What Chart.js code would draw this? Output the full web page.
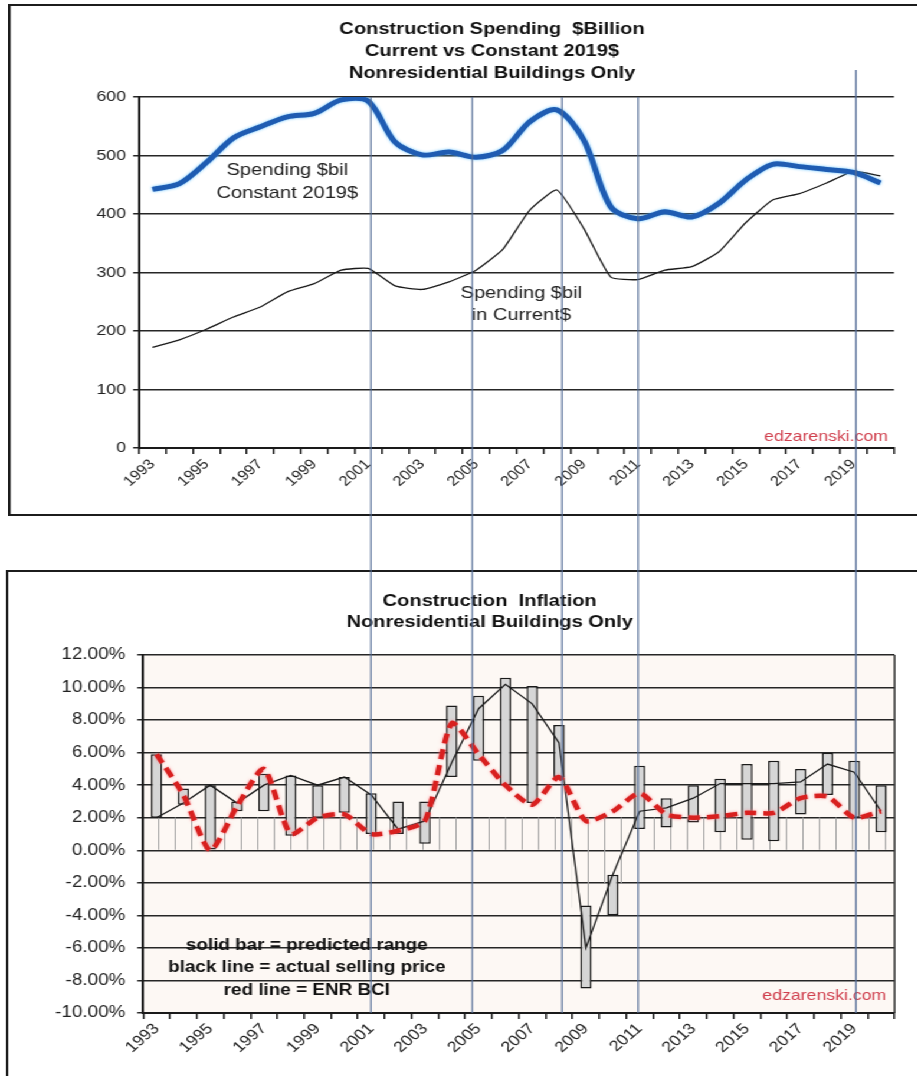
<!DOCTYPE html>
<html>
<head>
<meta charset="utf-8">
<title>Nonresidential Buildings: Spending and Inflation</title>
<script src="https://cdn.jsdelivr.net/npm/chart.js@4.4.1/dist/chart.umd.min.js"></script>
<style>
  html, body { margin: 0; padding: 0; background: #fff; }
  #page { position: relative; width: 917px; height: 1076px; overflow: hidden; background: #fff; }
  /* the whole sheet is laid out on a narrower stage and widened as one piece */
  #stage { position: absolute; left: 0; top: 0; width: 778px; height: 1076px;
           transform: scaleX(1.18); transform-origin: 0 0; }
  .frame { position: absolute; box-sizing: border-box; border: 2px solid #1c1c1c; pointer-events: none; }
  canvas { position: absolute; }
</style>
</head>
<body>
<div id="page">
 <div id="stage">
  <canvas id="spend" width="820" height="540" style="left:7px;top:0"></canvas>
  <canvas id="infl" width="820" height="516" style="left:5px;top:560px"></canvas>
  <div class="frame" style="left:7px;top:4px;width:860px;height:512px"></div>
  <div class="frame" style="left:5px;top:570px;width:860px;height:560px"></div>
  <canvas id="marks" width="778" height="1076" style="left:0;top:0;pointer-events:none"></canvas>
 </div>
</div>
<script>
// ---- data ----
const years = ['1993','1994','1995','1996','1997','1998','1999','2000','2001','2002',
               '2003','2004','2005','2006','2007','2008','2009','2010','2011','2012',
               '2013','2014','2015','2016','2017','2018','2019','2020'];

// Nonresidential buildings spending, $ billion
const spendConstant2019 = [442,452,488,530,549,566,572,595,593,523,501,506,497,509,
                           558,578,526,412,392,404,395,418,458,485,481,476,471,453];
const spendCurrent = [172,185,203,224,241,267,281,304,307,277,271,284,304,340,
                      407,441,375,292,288,304,310,335,385,424,435,453,473,465];
const spendTicks = [0,100,200,300,400,500,600];

// Inflation, % per year
const predictedLow  = [2.0,2.8,0.0,2.4,2.4,0.9,2.0,2.3,1.0,1.0,0.4,4.5,5.5,4.0,
                       2.9,4.5,-8.5,-4.0,1.3,1.4,1.7,1.1,0.65,0.55,2.2,3.4,2.0,1.1];
const predictedHigh = [5.9,3.8,4.0,3.0,4.7,4.6,4.0,4.5,3.5,3.0,3.0,8.9,9.5,10.6,
                       10.1,7.7,-3.4,-1.5,5.2,3.2,4.0,4.4,5.3,5.5,5.0,6.0,5.5,4.0];
const actualSelling = [2.0,2.9,4.0,2.9,4.0,4.6,4.0,4.5,3.4,1.3,1.8,5.4,8.7,10.2,
                       9.0,6.6,-6.0,-1.5,2.4,2.6,3.2,4.1,4.1,4.1,4.2,5.3,4.8,2.4];
const enrBci = [5.9,3.4,0.0,2.7,5.0,1.0,2.0,2.2,1.0,1.2,1.8,7.8,5.9,4.0,
                2.8,4.5,1.8,2.4,3.5,2.2,2.0,2.1,2.3,2.3,3.2,3.3,2.0,2.4];
const bandLow  = [0,0,0,0,0,0,0,0,0,0,0,0,0,0,0,0,-3.5,-2.0,0,0,0,0,0,0,0,0,0,0];
const bandHigh = [2,2,2,2,2,2,2,2,2,2,2,2,2,2,2,2,2,2,2,2,2,2,2,2,2,2,2,2];
const inflTicks = [-10,-8,-6,-4,-2,0,2,4,6,8,10,12];

// cycle markers spanning both panels (decimal years)
const cycleMarkYears = [2001.1, 2004.86, 2008.19, 2011.01, 2019.09];

// ---- shared styling ----
const SANS = "'Liberation Sans', Arial, Helvetica, sans-serif";
const INK = '#1a1a1a';

// panel heading, centred on the panel frame
function frameTitle(id, lines, y0, lh) {
  return {
    id,
    afterDraw(chart) {
      const { ctx } = chart;
      ctx.save();
      ctx.font = 'bold 17px ' + SANS;
      ctx.fillStyle = '#111';
      ctx.textAlign = 'center';
      ctx.textBaseline = 'middle';
      lines.forEach((t, i) => ctx.fillText(t, chart.width / 2, y0 + i * lh));
      ctx.restore();
    }
  };
}

function textNotes(id, notes) {
  return {
    id,
    afterDatasetsDraw(chart) {
      const { ctx } = chart;
      const xs = chart.scales.x, ys = chart.scales.y;
      ctx.save();
      notes.forEach(n => {
        ctx.font = n.font;
        ctx.fillStyle = n.color;
        ctx.textAlign = 'center';
        ctx.textBaseline = 'middle';
        const px = xs.getPixelForValue(n.x);
        const py = ys.getPixelForValue(n.y);
        n.lines.forEach((t, i) => ctx.fillText(t, px, py + i * n.lh));
      });
      ctx.restore();
    }
  };
}

function watermark(id, dx, dy) {
  return {
    id,
    afterDatasetsDraw(chart) {
      const { ctx, chartArea } = chart;
      ctx.save();
      ctx.font = '15px ' + SANS;
      ctx.fillStyle = '#d0404e';
      ctx.textAlign = 'right';
      ctx.textBaseline = 'middle';
      ctx.fillText('edzarenski.com', chartArea.right - dx, chartArea.bottom - dy);
      ctx.restore();
    }
  };
}

function lineGlow(id, glows) {
  return {
    id,
    beforeDatasetDraw(chart, args) {
      const g = glows[args.index];
      if (!g) return;
      chart.ctx.save();
      chart.ctx.shadowColor = g;
      chart.ctx.shadowBlur = 3;
    },
    afterDatasetDraw(chart, args) {
      if (glows[args.index]) chart.ctx.restore();
    }
  };
}

// ---- top panel: spending ----
const spendChart = new Chart(document.getElementById('spend'), {
  type: 'line',
  data: {
    labels: years,
    datasets: [
      { label: 'Spending $bil Constant 2019$', data: spendConstant2019,
        borderColor: '#1f5cb2', borderWidth: 5, pointRadius: 0, tension: 0.3, order: 0 },
      { label: 'Spending $bil in Current$', data: spendCurrent,
        borderColor: INK, borderWidth: 1.3, pointRadius: 0, tension: 0.15, order: 1 }
    ]
  },
  options: {
    responsive: false, animation: false, devicePixelRatio: 1,
    layout: { padding: { left: 0, right: 69.4, top: 97, bottom: 42 } },
    plugins: { legend: { display: false }, tooltip: { enabled: false }, title: { display: false } },
    scales: {
      x: {
        offset: true,
        grid: { display: true, drawOnChartArea: false, offset: true, tickLength: 6, color: INK, lineWidth: 1.5 },
        border: { color: INK, width: 2 },
        ticks: { autoSkip: false, maxRotation: 45, minRotation: 45, padding: 2, color: '#222',
                 font: { family: SANS, size: 14 },
                 callback: (v, i) => (i % 2 === 0 ? years[i] : '') },
        afterFit: s => { s.height = 50; }
      },
      y: {
        min: spendTicks[0], max: spendTicks[spendTicks.length - 1],
        afterBuildTicks: s => { s.ticks = spendTicks.map(v => ({ value: v })); },
        grid: { color: '#262626', lineWidth: 1.5, tickLength: 5 },
        border: { color: INK, width: 2 },
        ticks: { padding: 6, color: '#222', font: { family: SANS, size: 15 } },
        afterFit: s => { s.width = 110.8; }
      }
    }
  },
  plugins: [
    frameTitle('spendTitle', ['Construction Spending  $Billion', 'Current vs Constant 2019$', 'Nonresidential Buildings Only'], 29.5, 22),
    lineGlow('spendGlow', { 0: 'rgba(90,190,255,0.9)' }),
    textNotes('spendNotes', [
      { lines: ['Spending $bil', 'Constant 2019$'], x: 5, y: 475, lh: 23, font: '17px ' + SANS, color: '#222' },
      { lines: ['Spending $bil', 'in Current$'], x: 13.68, y: 265, lh: 22, font: '17px ' + SANS, color: '#222' }
    ]),
    watermark('spendMark', 5, 11)
  ]
});

// ---- bottom panel: inflation ----
const hatchCanvas = document.createElement('canvas');
hatchCanvas.width = 14; hatchCanvas.height = 8;
(() => {
  const c = hatchCanvas.getContext('2d');
  c.fillStyle = '#a2a2a2';
  c.fillRect(3, 0, 1, 8);
})();
const hatch = document.getElementById('infl').getContext('2d').createPattern(hatchCanvas, 'repeat');

const inflChart = new Chart(document.getElementById('infl'), {
  type: 'bar',
  data: {
    labels: years,
    datasets: [
      { type: 'line', label: 'red line = ENR BCI', data: enrBci,
        borderColor: '#d8201f', borderWidth: 4.5, borderDash: [10, 6], pointRadius: 0,
        tension: 0.22, order: 0 },
      { type: 'line', label: 'black line = actual selling price', data: actualSelling,
        borderColor: INK, borderWidth: 1.3, pointRadius: 0, tension: 0, order: 1 },
      { label: 'solid bar = predicted range', data: predictedLow.map((lo, i) => [lo, predictedHigh[i]]),
        backgroundColor: '#d6d6d6', borderColor: INK, borderWidth: 1.5, borderSkipped: false,
        grouped: false, barPercentage: 0.42, categoryPercentage: 1, order: 2 },
      { label: 'band', data: bandLow.map((lo, i) => [lo, bandHigh[i]]),
        backgroundColor: hatch, borderWidth: 0, grouped: false,
        barPercentage: 1, categoryPercentage: 1, order: 3 }
    ]
  },
  options: {
    responsive: false, animation: false, devicePixelRatio: 1,
    layout: { padding: { left: 0, right: 66.9, top: 95, bottom: 13 } },
    plugins: { legend: { display: false }, tooltip: { enabled: false }, title: { display: false } },
    scales: {
      x: {
        offset: true,
        grid: { display: true, drawOnChartArea: false, offset: true, tickLength: 6, color: INK, lineWidth: 1.5 },
        border: { color: INK, width: 2 },
        ticks: { autoSkip: false, maxRotation: 45, minRotation: 45, padding: 1, color: '#222',
                 font: { family: SANS, size: 15 },
                 callback: (v, i) => (i % 2 === 0 ? years[i] : '') },
        afterFit: s => { s.height = 50; }
      },
      y: {
        min: inflTicks[0], max: inflTicks[inflTicks.length - 1],
        afterBuildTicks: s => { s.ticks = inflTicks.map(v => ({ value: v })); },
        grid: { color: '#262626', lineWidth: 1.5, tickLength: 5 },
        border: { color: INK, width: 2 },
        ticks: { padding: 10, color: '#222', font: { family: SANS, size: 16 },
                 callback: v => v.toFixed(2) + '%' },
        afterFit: s => { s.width = 116.3; }
      }
    }
  },
  plugins: [
    {
      id: 'plotPaper',
      beforeDraw(chart) {
        const { ctx, chartArea: a } = chart;
        ctx.save();
        ctx.fillStyle = '#fdf8f4';
        ctx.fillRect(a.left, a.top, a.right - a.left, a.bottom - a.top);
        ctx.restore();
      },
      afterDraw(chart) {
        const { ctx, chartArea: a } = chart;
        ctx.save();
        ctx.strokeStyle = '#333';
        ctx.lineWidth = 1.5;
        ctx.beginPath();
        ctx.moveTo(a.right, a.top);
        ctx.lineTo(a.right, a.bottom);
        ctx.stroke();
        ctx.restore();
      }
    },
    frameTitle('inflTitle', ['Construction  Inflation', 'Nonresidential Buildings Only'], 41, 21),
    lineGlow('inflGlow', { 0: 'rgba(255,120,130,0.8)' }),
    textNotes('inflNotes', [
      { lines: ['solid bar = predicted range', 'black line = actual selling price', 'red line = ENR BCI'],
        x: 5.6, y: -5.84, lh: 22.5, font: 'bold 16px ' + SANS, color: '#111' }
    ]),
    watermark('inflMark', 7, 17)
  ]
});

// ---- cycle markers drawn across both panels ----
function drawCycleMarks() {
  const cv = document.getElementById('marks');
  const ctx = cv.getContext('2d');
  ctx.clearRect(0, 0, cv.width, cv.height);
  const spendCanvas = document.getElementById('spend');
  const inflCanvas = document.getElementById('infl');
  const xs = spendChart.scales.x;
  const dx = spendCanvas.offsetLeft;
  const topY = spendCanvas.offsetTop + spendChart.chartArea.top;
  const bottomY = inflCanvas.offsetTop + inflChart.chartArea.bottom;
  ctx.strokeStyle = 'rgba(84,108,150,0.85)';
  ctx.lineWidth = 1.4;
  cycleMarkYears.forEach((yr, i) => {
    const px = dx + xs.getPixelForValue(yr - 1993);
    const y0 = i === cycleMarkYears.length - 1 ? topY - 27 : topY;
    ctx.beginPath();
    ctx.moveTo(px, y0);
    ctx.lineTo(px, bottomY);
    ctx.stroke();
  });
}
drawCycleMarks();
</script>
</body>
</html>
